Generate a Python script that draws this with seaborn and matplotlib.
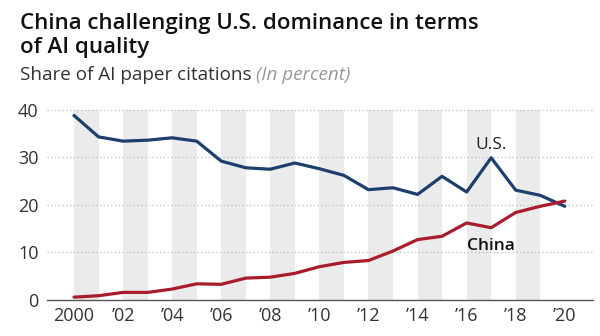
import matplotlib
matplotlib.use("Agg")
import matplotlib.pyplot as plt
import seaborn as sns
import pandas as pd
import numpy as np

years = list(range(2000, 2021))
us_share = [38.8, 34.3, 33.4, 33.6, 34.1, 33.4, 29.2, 27.8, 27.5, 28.8,
            27.6, 26.2, 23.2, 23.6, 22.2, 26.0, 22.7, 29.9, 23.1, 22.0, 19.7]
china_share = [0.6, 0.9, 1.6, 1.6, 2.3, 3.4, 3.3, 4.6, 4.8, 5.6,
               7.0, 7.9, 8.3, 10.3, 12.7, 13.4, 16.2, 15.2, 18.4, 19.7, 20.8]
countries = ["U.S.", "China"]
colors = {"U.S.": "#1d3f6e", "China": "#a81c2c"}
tick_years = list(range(2000, 2021, 2))
tick_labels = ["2000", "\u201902", "\u201904", "\u201906", "\u201908", "\u201910",
               "\u201912", "\u201914", "\u201916", "\u201918", "\u201920"]
y_ticks = [0, 10, 20, 30, 40]
title_lines = ["China challenging U.S. dominance in terms", "of AI quality"]

df = pd.DataFrame({
    "year": years * 2,
    "share": us_share + china_share,
    "country": ["U.S."] * len(years) + ["China"] * len(years),
})

sns.set_theme(style="white")
plt.rcParams["font.family"] = ["Open Sans", "DejaVu Sans"]

fig = plt.figure(figsize=(6, 3.36), dpi=100)
ax = fig.add_axes([47 / 600, 1 - 300 / 336, (593 - 47) / 600, (300 - 105) / 336])

# alternating grey bands
for y0 in tick_years[:-1]:
    ax.axvspan(y0, y0 + 1, ymin=0, ymax=40 / 41, color="#ebebeb", lw=0, zorder=0)

for yt in y_ticks[1:]:
    ax.axhline(yt, color="#bdbdbd", lw=0.9, ls=(0, (1, 2)), zorder=1)

sns.lineplot(data=df, x="year", y="share", hue="country", palette=colors,
             hue_order=countries, lw=2.3, ax=ax, legend=False, zorder=3)

ax.set_xlim(1998.9, 2021.15)
ax.set_ylim(0, 41)
ax.set_xticks(tick_years)
ax.set_xticklabels(tick_labels)
ax.set_yticks(y_ticks)
ax.set_xlabel("")
ax.set_ylabel("")
for s in ["top", "right", "left"]:
    ax.spines[s].set_visible(False)
ax.spines["bottom"].set_color("#555555")
ax.spines["bottom"].set_linewidth(1.0)
ax.spines["bottom"].set_zorder(4)
ax.tick_params(axis="x", length=2.5, width=2.5, direction="inout", color="#222222",
               labelsize=13, labelcolor="#333333", pad=4)
ax.tick_params(axis="y", length=0, labelsize=13, labelcolor="#333333", pad=6)

ax.text(2017, 32.6, "U.S.", ha="center", va="center", fontsize=12.5, color="#222222")
ax.text(2017, 11.4, "China", ha="center", va="center", fontsize=12.5,
        fontweight="semibold", color="#111111")

fig.text(20 / 600, 1 - 29 / 336, title_lines[0], ha="left", va="baseline",
         fontsize=16, fontweight="semibold", color="#111111")
fig.text(20 / 600, 1 - 53 / 336, title_lines[1], ha="left", va="baseline",
         fontsize=16, fontweight="semibold", color="#111111")
t = fig.text(20 / 600, 1 - 80 / 336, "Share of AI paper citations ", ha="left",
             va="baseline", fontsize=13.6, color="#333333")
fig.canvas.draw()
bb = t.get_window_extent()
fig.text(bb.x1 / 600, 1 - 80 / 336, "(In percent)", ha="left", va="baseline",
         fontsize=13.6, color="#999999", fontstyle="italic")

fig.savefig("out.png", dpi=100)
